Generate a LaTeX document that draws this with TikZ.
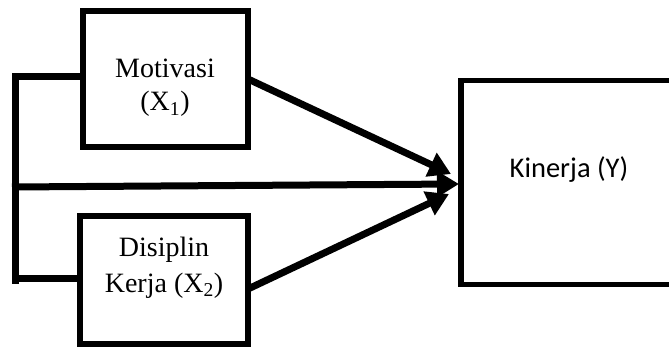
\documentclass[tikz,border=0pt]{standalone}
\usepackage{fontspec}
\setmainfont{Liberation Serif}
\newfontfamily\kfont{Carlito}
\usetikzlibrary{arrows.meta}
\begin{document}
\begin{tikzpicture}[x=1pt,y=-1pt,
  box/.style={draw,line width=5.5pt,inner sep=0pt,outer sep=0pt,line join=miter},
  lbl/.style={anchor=base,inner sep=0pt,font=\fontsize{28}{31}\selectfont},
  conn/.style={line width=6.5pt,line join=miter},
  arr/.style={line width=7pt,-{Triangle[length=22pt,width=25pt]}}]
\useasboundingbox (0,0) rectangle (669,347);
\fill[white] (0,0) rectangle (669,347);
% boxes
\node[box,minimum width=165pt,minimum height=136pt] (b1) at (165.5,79) {};
\node[box,minimum width=168pt,minimum height=128pt] (b2) at (164,280) {};
\node[box,minimum width=217pt,minimum height=204pt] (k) at (569.5,182.5) {};
% texts
\node[lbl] (t1a) at (165,78) {Motivasi};
\node[lbl] (t1b) at (165,111) {(X\textsubscript{1})};
\node[lbl] (t2a) at (164,257) {Disiplin};
\node[lbl] (t2b) at (164,292) {Kerja (X\textsubscript{2})};
\node[anchor=base,inner sep=0pt,font=\kfont\fontsize{28.5}{32}\selectfont] (tk) at (569,178) {Kinerja (Y)};
% bracket
\coordinate (c1) at (15.5,76.5);
\coordinate (c2) at (15.5,278.5);
\coordinate (c0) at (15.5,187);
\draw[conn] (b1.west |- c1) -- (c1) -- (15.5,284);
\draw[conn] (15.5,76) -- (c2) -- (b2.west |- c2);
% arrow tips
\coordinate (p1) at (451,174);
\coordinate (p3) at (449,194);
\coordinate (p2) at (459,184);
\draw[arr] ([xshift=-3.5pt]c0) -- (p2);
\draw[arr] (b1.east) -- (p1);
\draw[arr] ([yshift=-9pt]b2.east) -- (p3);
\end{tikzpicture}
\end{document}
